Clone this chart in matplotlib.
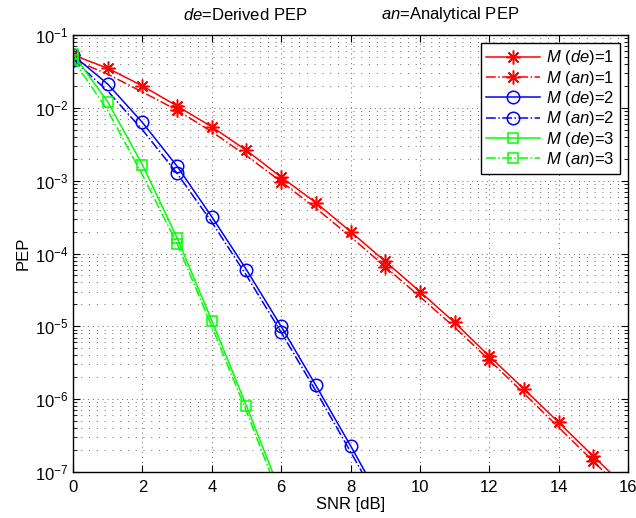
import matplotlib
matplotlib.use("Agg")
import matplotlib.pyplot as plt
import numpy as np
from matplotlib.ticker import LogLocator, FixedLocator, NullFormatter

plt.rcParams['font.family'] = ['Liberation Sans', 'DejaVu Sans']
plt.rcParams['mathtext.fontset'] = 'custom'
plt.rcParams['mathtext.rm'] = 'Liberation Sans'
plt.rcParams['mathtext.it'] = 'Liberation Sans:italic'

snr_m1 = list(range(0, 17))
pep_m1_de = [0.053, 0.035, 0.020, 0.0106, 0.0055, 0.0026, 0.00112, 5.0e-4, 2.0e-4,
             7.8e-5, 3.0e-5, 1.13e-5, 3.9e-6, 1.38e-6, 4.8e-7, 1.65e-7, 5.7e-8]
pep_m1_an = [0.046, 0.029, 0.0165, 0.0093, 0.0047, 0.0022, 0.00097, 4.2e-4, 1.7e-4,
             6.6e-5, 2.55e-5, 9.7e-6, 3.45e-6, 1.2e-6, 4.1e-7, 1.4e-7, 4.8e-8]

snr_m2 = list(range(0, 10))
pep_m2_de = [0.053, 0.0212, 0.0063, 0.00158, 3.2e-4, 6.0e-5, 1.0e-5, 1.55e-6, 2.3e-7, 3.2e-8]
pep_m2_an = [0.046, 0.017, 0.0050, 0.00126, 2.7e-4, 5.0e-5, 8.3e-6, 1.3e-6, 1.9e-7, 2.7e-8]

snr_m3 = list(range(0, 7))
pep_m3_de = [0.055, 0.0121, 0.00166, 1.64e-4, 1.2e-5, 8.1e-7, 5.0e-8]
pep_m3_an = [0.046, 0.0092, 0.0012, 1.37e-4, 1.0e-5, 6.8e-7, 4.0e-8]

x_ticks = [0, 2, 4, 6, 8, 10, 12, 14, 16]
y_ticks = [1e-7, 1e-6, 1e-5, 1e-4, 1e-3, 1e-2, 1e-1]
labels = [r'$\mathit{M}$ $(\mathit{de})$=1', r'$\mathit{M}$ $(\mathit{an})$=1',
          r'$\mathit{M}$ $(\mathit{de})$=2', r'$\mathit{M}$ $(\mathit{an})$=2',
          r'$\mathit{M}$ $(\mathit{de})$=3', r'$\mathit{M}$ $(\mathit{an})$=3']

fig = plt.figure(figsize=(6.36, 5.18), dpi=100)
ax = fig.add_axes([73/636, 1-472/518, (628-73)/636, (472-35)/518])

red, blue, green = (1, 0, 0), (0, 0, 1), (0, 1, 0)
lw = 1.1
star = (8, 2, 0)
ax.plot(snr_m1, pep_m1_de, '-', color=red, marker=star, ms=10, mew=1.1, lw=lw, label=labels[0])
ax.plot(snr_m1, pep_m1_an, '-.', color=red, marker=star, ms=10, mew=1.1, lw=lw, markevery=3, label=labels[1])
ax.plot(snr_m2, pep_m2_de, '-', color=blue, marker='o', ms=9, mfc='none', mew=1.1, lw=lw, label=labels[2])
ax.plot(snr_m2, pep_m2_an, '-.', color=blue, marker='o', ms=9, mfc='none', mew=1.1, lw=lw, markevery=3, label=labels[3])
ax.plot(snr_m3, pep_m3_de, '-', color=green, marker='s', ms=7, mfc='none', mew=1.1, lw=lw, label=labels[4])
ax.plot(snr_m3, pep_m3_an, '-.', color=green, marker='s', ms=7, mfc='none', mew=1.1, lw=lw, markevery=3, label=labels[5])

ax.set_yscale('log')
ax.set_xlim(0, 16)
ax.set_ylim(1e-7, 1e-1)
ax.xaxis.set_major_locator(FixedLocator(x_ticks))
ax.yaxis.set_major_locator(FixedLocator(y_ticks))
minor = [m * 10.0**e for e in range(-7, -1) for m in range(2, 10)]
ax.yaxis.set_minor_locator(FixedLocator(minor))
ax.yaxis.set_minor_formatter(NullFormatter())

ax.grid(True, which='major', axis='both', color='black', linestyle=(0, (1, 4)), linewidth=0.7, alpha=0.6)
ax.grid(True, which='minor', axis='y', color='black', linestyle=(0, (1, 7)), linewidth=0.7, alpha=0.6)
ax.set_axisbelow(True)

ax.tick_params(which='both', direction='in', top=True, right=True, labelsize=12)
ax.tick_params(axis='x', pad=6)
ax.tick_params(which='major', length=5, width=0.8)
ax.tick_params(which='minor', length=3, width=0.6)
for s in ax.spines.values():
    s.set_linewidth(1.0)

ax.set_xlabel('SNR [dB]', fontsize=12, labelpad=1)
ax.set_ylabel('PEP', fontsize=12, labelpad=3)

fig.text(245/636, 1-15/518, r'$\mathit{de}$=Derived PEP', ha='center', va='center', fontsize=12)
fig.text(450/636, 1-15/518, r'$\mathit{an}$=Analytical PEP', ha='center', va='center', fontsize=12)

leg = ax.legend(loc='upper right', fontsize=12, frameon=True, fancybox=False,
                edgecolor='black', framealpha=1, borderaxespad=0.5,
                handlelength=3.2, labelspacing=0.08, borderpad=0.3, handletextpad=0.4)
leg.get_frame().set_linewidth(1.0)

fig.savefig('out.png', dpi=100)
